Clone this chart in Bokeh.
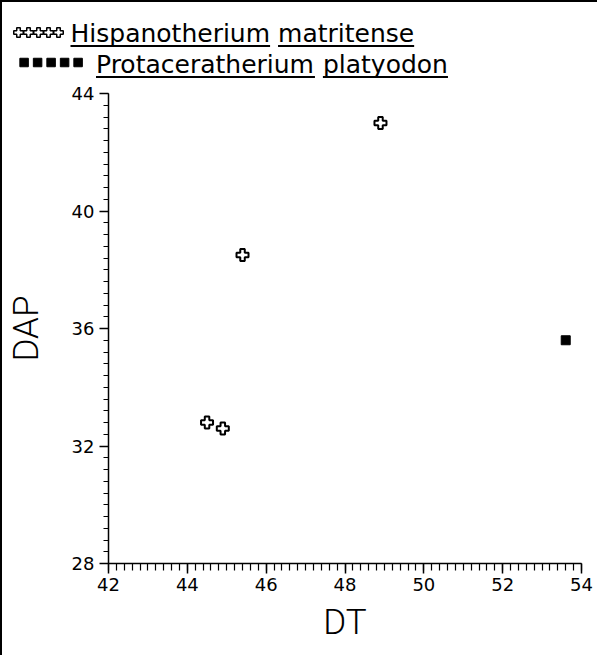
from bokeh.plotting import figure
from bokeh.models import Range1d, SingleIntervalTicker
from bokeh.layouts import column
from bokeh.embed import file_html
from bokeh.resources import INLINE
from bokeh.core.properties import value

# ---- data ----
hisp_dt = [44.5, 44.9, 45.4, 48.9]
hisp_dap = [32.8, 32.6, 38.5, 43.0]
prot_dt = [53.6]
prot_dap = [35.6]
series_names = ["Hispanotherium matritense", "Protaceratherium platyodon"]
x_label = "DT"
y_label = "DAP"
x_min, x_max, x_step = 42, 54, 2
y_min, y_max, y_step = 28, 44, 4

# ---- approximate DejaVu Sans advance widths (em) for underline lengths ----
ADV = {' ': .318, 'P': .603, 'H': .752, 'a': .613, 'c': .550, 'd': .635, 'e': .615,
       'h': .634, 'i': .278, 'l': .278, 'm': .974, 'n': .634, 'o': .612, 'p': .635,
       'r': .411, 's': .521, 't': .392, 'u': .634, 'y': .592}
FS = 25


def wlen(s):
    return sum(ADV.get(c, .6) for c in s) * FS


W = 595
LEG_H = 79
MAIN_H = 574

# ---- legend figure (pixel coordinates, y downwards) ----
lg = figure(width=W, height=LEG_H, x_range=Range1d(0, W), y_range=Range1d(LEG_H, 0),
            output_backend="svg", toolbar_location=None, min_border=0,
            x_axis_location=None, y_axis_location=None)
lg.grid.visible = False
lg.outline_line_color = None
if hasattr(lg, "frame_align"):
    lg.frame_align = False

leg_rows = [
    dict(marker="plus", x0=16, dx=10, my=30, size=9.5, lw=1.5, fill="white", tx=68, mid=31, ul=43.5),
    dict(marker="square", x0=21.6, dx=13.5, my=60, size=8.5, lw=1, fill="black", tx=93.5, mid=61.5, ul=74.5),
]
for name, r in zip(series_names, leg_rows):
    xs = [r["x0"] + i * r["dx"] for i in range(5)]
    lg.scatter(xs, [r["my"]] * 5, marker=r["marker"], size=r["size"], fill_color=r["fill"],
               line_color="black", line_width=r["lw"])
    words = name.split(" ")
    x = r["tx"]
    wx, ux0, ux1 = [], [], []
    for w in words:
        wx.append(x)
        ux0.append(x)
        ux1.append(x + wlen(w))
        x += wlen(w + " ")
    lg.text(x=wx, y=[r["mid"]] * len(words), text=words, text_font=value("DejaVu Sans"),
            text_font_size=f"{FS}px", text_baseline="middle", text_align="left",
            text_color="black")
    lg.segment(x0=ux0, y0=[r["ul"]] * len(words), x1=ux1, y1=[r["ul"]] * len(words),
               line_color="black", line_width=1.8)

# ---- main scatter ----
p = figure(width=W, height=MAIN_H, x_range=Range1d(x_min, x_max), y_range=Range1d(y_min, y_max),
           output_backend="svg", toolbar_location=None,
           min_border_left=100, min_border_right=16, min_border_top=12, min_border_bottom=92)
p.grid.visible = False
p.outline_line_color = None
p.background_fill_color = "white"
if hasattr(p, "frame_align"):
    p.frame_align = False

p.xaxis.ticker = SingleIntervalTicker(interval=x_step, num_minor_ticks=10)
p.yaxis.ticker = SingleIntervalTicker(interval=y_step, num_minor_ticks=10)
p.xaxis.axis_label = x_label
p.yaxis.axis_label = y_label

for ax in (p.xaxis, p.yaxis):
    ax.axis_line_color = "black"
    ax.axis_line_width = 1.5
    ax.major_tick_line_color = "black"
    ax.minor_tick_line_color = "black"
    ax.major_tick_line_width = 1.5
    ax.minor_tick_line_width = 1.2
    ax.major_tick_in = 0
    ax.minor_tick_in = 0
    ax.major_label_text_font = "DejaVu Sans"
    ax.major_label_text_font_size = "18px"
    ax.major_label_text_color = "black"
    ax.axis_label_text_font = "Roboto Light"
    ax.axis_label_text_font_size = "35px"
    ax.axis_label_text_font_style = "normal"
    ax.axis_label_text_color = "black"

p.xaxis.major_tick_out = 10
p.xaxis.minor_tick_out = 7
p.yaxis.major_tick_out = 9
p.yaxis.minor_tick_out = 5
p.xaxis.major_label_standoff = 4
p.yaxis.major_label_standoff = 5
p.xaxis.axis_label_standoff = 8
p.yaxis.axis_label_standoff = 22

p.scatter(hisp_dt, hisp_dap, marker="plus", size=12, fill_color="white",
          line_color="black", line_width=2)
p.scatter(prot_dt, prot_dap, marker="square", size=9, fill_color="black", line_color="black")

layout = column(lg, p, spacing=0,
                styles={"border-left": "2px solid black", "border-top": "2px solid black"})

open("out.html", "w").write(file_html(layout, INLINE))
